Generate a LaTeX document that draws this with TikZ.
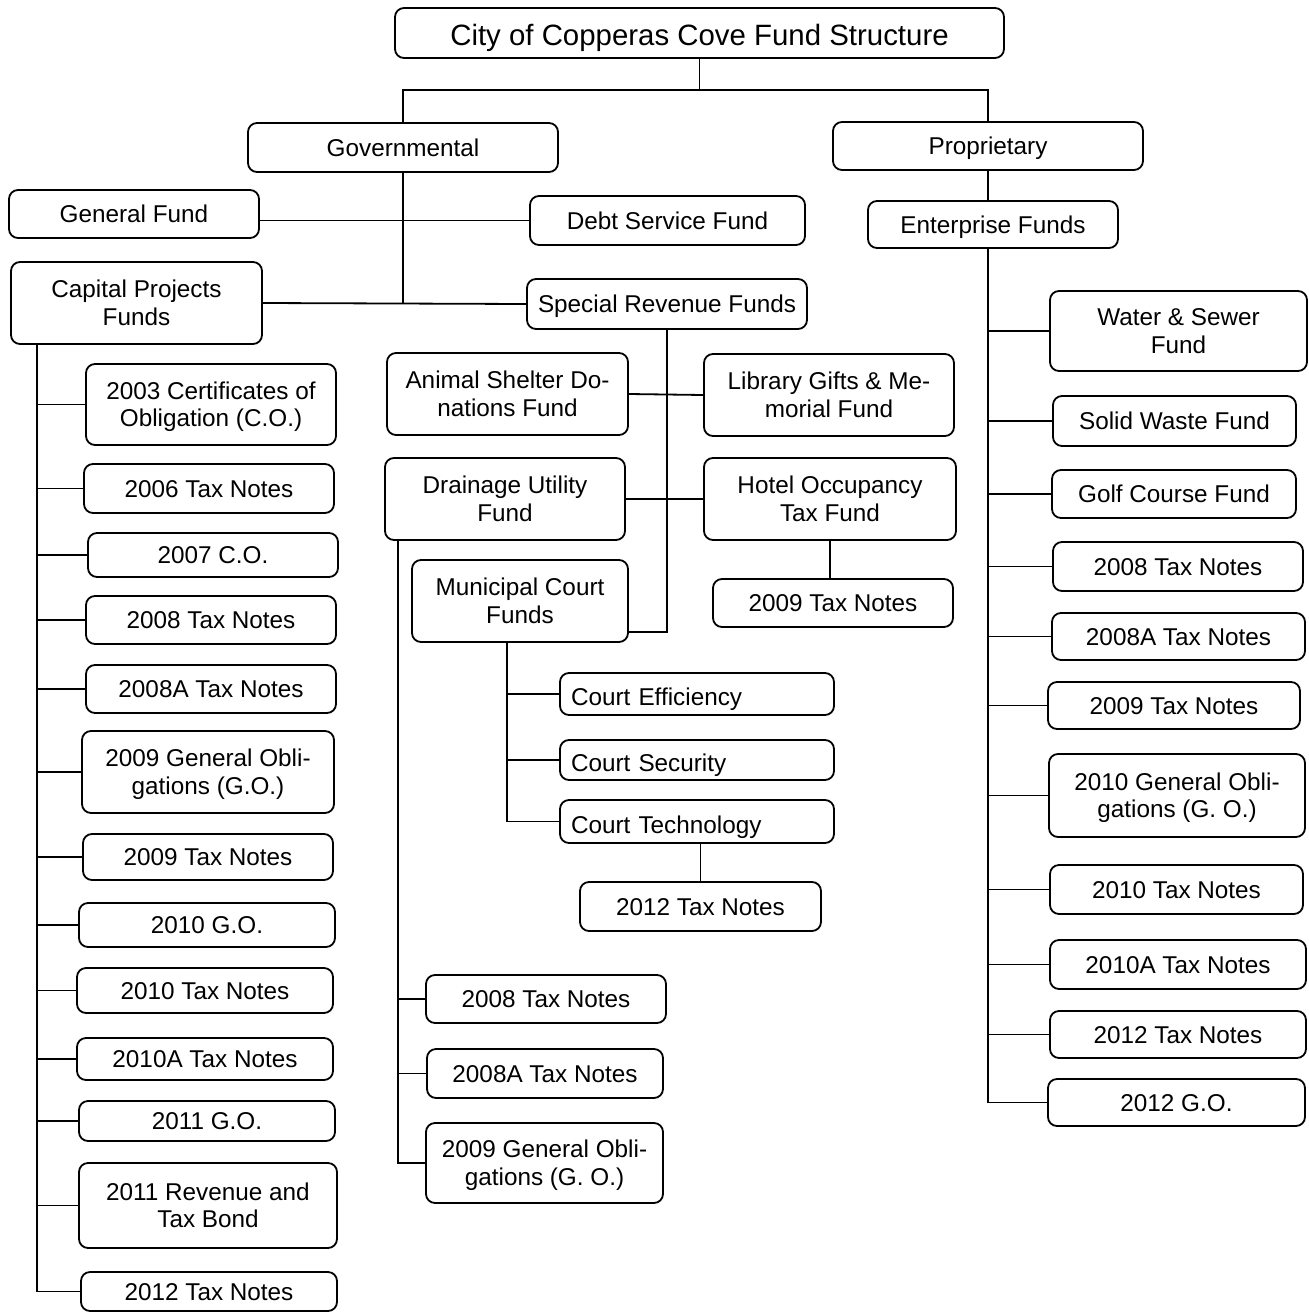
\documentclass[tikz,border=0pt]{standalone}
\usepackage{fontspec}
\setmainfont{Liberation Sans}
\begin{document}
\begin{tikzpicture}[x=1pt,y=-1pt,
  box/.style={draw, rounded corners=9pt, line width=1.8pt, inner sep=0pt, align=center,
    font=\fontsize{24.3}{27.5}\selectfont, text height=19.6pt, text depth=2.2pt},
  two/.style={text height=47.6pt, text depth=2.7pt},
  court/.style={text width=252pt, align=left, text height=24.6pt, text depth=1.2pt},
  conn/.style={line width=1.8pt}]
\useasboundingbox (0,0) rectangle (1309,1312);
\newcommand\bx[7][]{\node[box,#1, minimum width={(#5-#3)*1pt}, minimum height={(#6-#4)*1pt}] (#2) at ({(#3+#5)/2},{(#4+#6)/2}) {#7};}
% top
\bx[font=\fontsize{29.4}{33}\selectfont, text height=28pt, text depth=2.2pt]{title}{395}{8}{1004}{58}{City of Copperas Cove Fund Structure}
\bx{gov}{248}{123}{558}{172}{Governmental}
\bx{prop}{833}{122}{1143}{170}{Proprietary}
\bx{genf}{9}{190}{259}{238}{General Fund}
\bx{debt}{530}{196}{805}{245}{Debt Service Fund}
\bx[two]{cap}{11}{262}{262}{344}{Capital Projects\\Funds}
\bx{spec}{527}{279}{807}{329}{Special Revenue Funds}
\bx{ent}{868}{201}{1118}{248}{Enterprise Funds}
% left column
\bx[two]{l03}{86}{364}{336}{445}{2003 Certificates of\\Obligation (C.O.)}
\bx{l06}{84}{464}{334}{513}{2006 Tax Notes}
\bx{l07}{88}{533}{338}{577}{2007 C.O.}
\bx{l08}{86}{596}{336}{644}{2008 Tax Notes}
\bx{l08a}{86}{665}{336}{713}{2008A Tax Notes}
\bx[two]{l09go}{82}{731}{334}{813}{2009 General Obli-\\gations (G.O.)}
\bx{l09}{83}{834}{333}{880}{2009 Tax Notes}
\bx{l10go}{79}{903}{335}{947}{2010 G.O.}
\bx{l10}{77}{968}{333}{1013}{2010 Tax Notes}
\bx{l10a}{77}{1038}{333}{1080}{2010A Tax Notes}
\bx{l11go}{79}{1101}{335}{1141}{2011 G.O.}
\bx[two]{l11r}{79}{1163}{337}{1248}{2011 Revenue and\\Tax Bond}
\bx{l12}{81}{1272}{337}{1311}{2012 Tax Notes}
% middle
\bx[two]{animal}{387}{353}{628}{435}{Animal Shelter Do-\\nations Fund}
\bx[two]{library}{704}{354}{954}{436}{Library Gifts \& Me-\\morial Fund}
\bx[two]{drain}{385}{458}{625}{540}{Drainage Utility\\Fund}
\bx[two]{hotel}{704}{458}{956}{540}{Hotel Occupancy\\Tax Fund}
\bx[two]{muni}{412}{560}{628}{642}{Municipal Court\\Funds}
\bx{m09}{713}{579}{953}{627}{2009 Tax Notes}
\bx[court]{ceff}{560}{673}{834}{715}{Court Efficiency}
\bx[court]{csec}{560}{740}{834}{780}{Court Security}
\bx[court]{ctech}{560}{800}{834}{843}{Court Technology}
\bx{m12}{580}{882}{821}{931}{2012 Tax Notes}
\bx{d08}{426}{975}{666}{1023}{2008 Tax Notes}
\bx{d08a}{427}{1049}{663}{1098}{2008A Tax Notes}
\bx[two]{d09go}{426}{1123}{663}{1203}{2009 General Obli-\\gations (G. O.)}
% right
\bx[two]{ws}{1050}{291}{1307}{371}{Water \& Sewer\\Fund}
\bx{sw}{1053}{396}{1296}{446}{Solid Waste Fund}
\bx{golf}{1052}{470}{1296}{518}{Golf Course Fund}
\bx{r08}{1053}{542}{1303}{591}{2008 Tax Notes}
\bx{r08a}{1052}{613}{1305}{660}{2008A Tax Notes}
\bx{r09}{1048}{682}{1300}{729}{2009 Tax Notes}
\bx[two]{r10go}{1049}{754}{1305}{837}{2010 General Obli-\\gations (G. O.)}
\bx{r10}{1050}{865}{1303}{914}{2010 Tax Notes}
\bx{r10a}{1050}{940}{1306}{989}{2010A Tax Notes}
\bx{r12}{1050}{1011}{1306}{1058}{2012 Tax Notes}
\bx{r12go}{1048}{1079}{1305}{1126}{2012 G.O.}
% junction coordinates
\coordinate (j0) at (701,90);
\coordinate (ltop) at (37,344);
\coordinate (rtop) at (988,248);
\coordinate (mj) at (665,632);
\coordinate (dtop) at (398,540);
\coordinate (mtop) at (507,642);
% connectors: top levels
\draw[conn] (title.south) -- (title.south |- j0);
\draw[conn] (gov.north) -- (gov.north |- j0) -- (prop.north |- j0) -- (prop.north);
\draw[conn] (gov.south) -- (gov.south |- cap.east);
\draw[conn] (genf.east |- debt.west) -- (debt.west);
\draw[conn] (cap.east) -- (spec.west);
\draw[conn] (prop.south) -- (prop.south |- ent.north);
% left column
\draw[conn] (ltop) |- (l12.west);
\foreach \n in {l03,l06,l07,l08,l08a,l09go,l09,l10go,l10,l10a,l11go,l11r}
  \draw[conn] (ltop |- \n.west) -- (\n.west);
% special revenue
\draw[conn] (spec.south) -- (spec.south |- mj) -- (muni.east |- mj);
\draw[conn] (animal.east) -- (library.west);
\draw[conn] (drain.east) -- (hotel.west);
\draw[conn] (hotel.south) -- (hotel.south |- m09.north);
\draw[conn] (dtop) |- (d09go.west);
\foreach \n in {d08,d08a}
  \draw[conn] (dtop |- \n.west) -- (\n.west);
\draw[conn] (mtop) |- (ctech.west);
\foreach \n in {ceff,csec}
  \draw[conn] (mtop |- \n.west) -- (\n.west);
\draw[conn] (ctech.south -| m12.north) -- (m12.north);
% right column
\draw[conn] (rtop) |- (r12go.west);
\foreach \n in {ws,sw,golf,r08,r08a,r09,r10go,r10,r10a,r12}
  \draw[conn] (rtop |- \n.west) -- (\n.west);
\end{tikzpicture}
\end{document}
